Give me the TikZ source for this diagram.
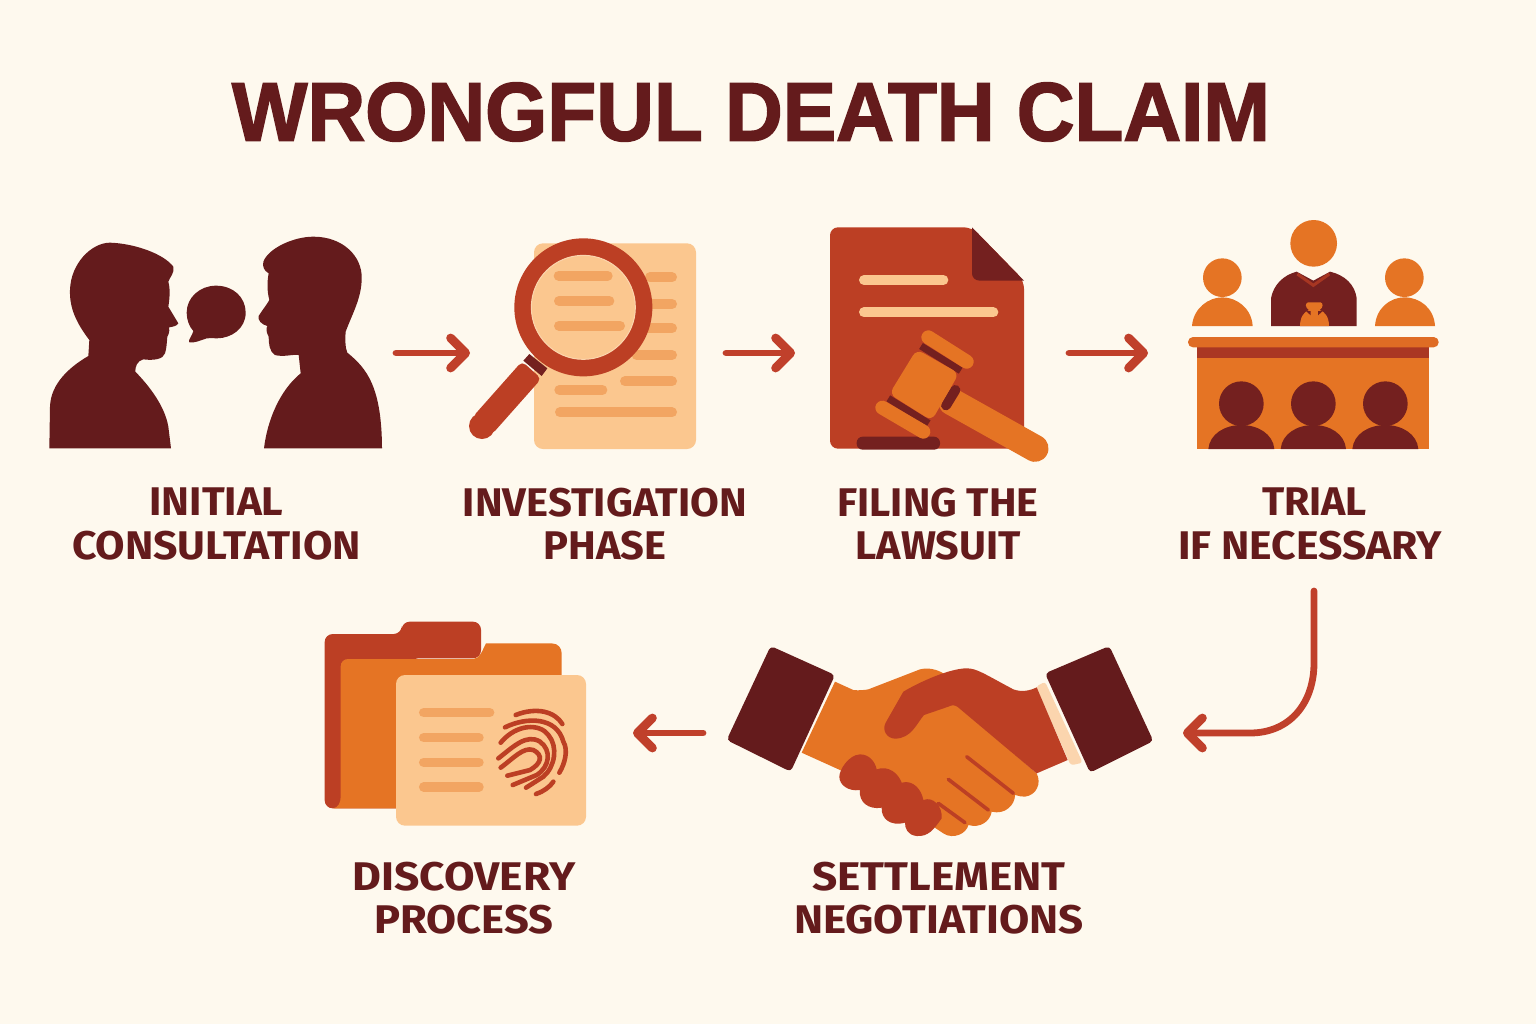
\documentclass[tikz,border=0pt]{standalone}
\usepackage{fontspec}
\usepackage{graphicx}
\usetikzlibrary{arrows.meta}
\setmainfont{Fira Sans}
\newfontfamily\titlefont[BoldFeatures={FakeBold=2}]{Liberation Sans}
\definecolor{bgc}{HTML}{FEF9EE}
\definecolor{maroon}{HTML}{641B1C}
\definecolor{maroonb}{HTML}{74201F}
\definecolor{rust}{HTML}{BC3F24}
\definecolor{orng}{HTML}{E57424}
\definecolor{peach}{HTML}{FBC78F}
\definecolor{barc}{HTML}{F2A562}
\definecolor{pale}{HTML}{FBD5AE}
\definecolor{arrowc}{HTML}{C0402B}
\newcommand\fitw[2]{\resizebox{#1pt}{\height}{#2}}
\tikzset{
 zz/.style={x=0.166667pt,y=-0.166667pt},
 anchorbox/.style={inner sep=0pt,outer sep=0pt,minimum height=2pt,anchor=center},
 flow/.style={draw=arrowc,line width=3.4pt,line cap=round,line join=round,-{Straight Barb[round,length=7.5pt,width=15pt,line width=4.4pt]}},
 steplabel/.style={text=maroon,align=center,inner sep=0pt,font=\fontsize{20}{21.6}\selectfont\bfseries},
 rule/.style={line cap=round,line width=5pt,draw=barc},
}
\begin{document}
\begin{tikzpicture}[x=0.5pt,y=-0.5pt]
\fill[bgc] (0,0) rectangle (1536,1024);
\useasboundingbox (0,0) rectangle (1536,1024);

% title
\node[text=maroon,inner sep=0pt,font=\fontsize{41.5}{46}\selectfont\titlefont\bfseries] (title) at (751,112) {\fitw{519}{WRONGFUL DEATH CLAIM}};

% --- consultation
\begin{scope}[shift={(30,220)},zz]
\fill[maroon] (58,685) -- (60,560) .. controls (62,490) and (120,440) .. (175,408) -- (178,360)
 .. controls (140,310) and (118,265) .. (120,210) .. controls (122,130) and (185,68) .. (240,68)
 .. controls (310,70) and (400,100) .. (430,140) .. controls (434,160) and (420,170) .. (415,185)
 .. controls (422,210) and (418,240) .. (415,260) -- (445,310) .. controls (440,318) and (430,320) .. (417,322)
 .. controls (420,335) and (415,345) .. (412,350) .. controls (410,370) and (410,385) .. (405,400)
 .. controls (400,418) and (370,422) .. (340,418) .. controls (322,422) and (315,440) .. (316,455)
 .. controls (360,500) and (405,560) .. (415,620) -- (423,685) -- cycle;
\fill[maroon] (702,685) .. controls (712,600) and (750,510) .. (812,460) -- (806,405)
 .. controls (790,402) and (760,412) .. (735,405) .. controls (718,395) and (716,370) .. (716,350)
 .. controls (708,335) and (708,325) .. (712,318) .. controls (695,314) and (682,300) .. (686,288)
 .. controls (698,268) and (710,255) .. (718,240) .. controls (710,210) and (712,180) .. (716,160)
 .. controls (702,152) and (697,140) .. (700,125) .. controls (715,85) and (790,50) .. (850,50)
 .. controls (940,50) and (997,110) .. (995,175) .. controls (995,235) and (965,285) .. (947,335)
 .. controls (945,360) and (946,385) .. (952,398) .. controls (1010,445) and (1055,500) .. (1056,685) -- cycle;
\fill[maroon] (558,197) .. controls (610,197) and (647,232) .. (647,278) .. controls (647,325) and (605,355) .. (560,355)
 .. controls (550,355) and (540,353) .. (530,355) .. controls (510,362) and (490,370) .. (478,367)
 .. controls (472,362) and (488,345) .. (490,333) .. controls (478,320) and (470,300) .. (470,278)
 .. controls (470,232) and (510,197) .. (558,197) -- cycle;
\end{scope}
\node[anchorbox,minimum width=173pt] (iconA) at (223,353) {};

% --- investigation
\begin{scope}[shift={(460,220)},zz]
\fill[peach,rounded corners=4.5pt] (222,70) rectangle (708,687);
\begin{scope}[rule]
\draw (570,172) -- (636,172);
\draw (575,252) -- (636,252);
\draw (565,325) -- (636,325);
\draw (530,405) -- (636,405);
\draw (495,484) -- (636,484);
\draw (298,510) -- (427,510);
\draw (300,577) -- (636,577);
\end{scope}
\fill[maroonb] (208,402) -- (262,445) -- (245,468) -- (190,422) -- cycle;
\fill[rust] (66,618) circle[radius=39];
\fill[rust,rounded corners=2.5pt] (186,424) -- (244,476) -- (95,644) -- (37,592) -- cycle;
\fill[rust] (370,262) circle[radius=207];
\filldraw[fill=peach,draw=pale,line width=.5pt] (370,262) circle[radius=156];
\begin{scope}[rule]
\draw (296,167) -- (443,167);
\draw (297,243) -- (448,243);
\draw (297,317) -- (480,317);
\end{scope}
\end{scope}
\node[anchorbox,minimum width=128pt] (iconB) at (598,353) {};

% --- filing
\begin{scope}[shift={(820,220)},zz]
\fill[rust,rounded corners=4pt] (30,22) -- (456,22) -- (612,182) -- (612,686) -- (30,686) -- cycle;
\fill[maroonb] (456,22) -- (612,182) -- (480,182) .. controls (465,182) and (456,172) .. (456,160) -- cycle;
\draw[peach,line width=5pt,line cap=round] (132,180) -- (370,180);
\draw[peach,line width=5pt,line cap=round] (132,277) -- (520,277);
\fill[maroonb,rounded corners=3pt] (110,689) -- (110,650) -- (360,650) -- (360,689) -- cycle;
\draw[orng,line width=13.5pt,line cap=round] (395,545) -- (645,685);
\draw[maroonb,line width=5pt,line cap=round] (378,556) -- (406,510);
\draw[maroonb,line width=3.5pt] (303,378) -- (422,452);
\draw[maroonb,line width=3.5pt] (205,535) -- (326,610);
\fill[orng,rounded corners=3.5pt] (290,388) -- (417,460) -- (335,602) -- (208,522) -- cycle;
\draw[orng,line width=7pt,line cap=round] (325,352) -- (440,425);
\draw[orng,line width=7pt,line cap=round] (187,563) -- (310,635);
\end{scope}
\node[anchorbox,minimum width=137pt] (iconC) at (932,353) {};

% --- trial
\begin{scope}[shift={(1180,210)},zz]
\fill[orng] (401,100) circle[radius=70];
\fill[orng] (127,203) circle[radius=58];
\fill[orng] (673,203) circle[radius=58];
\fill[orng] (36,348) .. controls (40,295) and (85,262) .. (127,262) .. controls (170,262) and (215,295) .. (218,348) -- cycle;
\fill[orng] (585,348) .. controls (588,295) and (630,262) .. (673,262) .. controls (720,262) and (762,295) .. (765,348) -- cycle;
\fill[maroonb] (273,348) -- (273,265) .. controls (280,225) and (310,195) .. (350,185) -- (400,212) -- (450,185)
 .. controls (495,195) and (525,225) .. (530,265) -- (530,348) -- cycle;
\draw[rust!70!maroonb,line width=1.5pt] (352,192) -- (400,226) -- (448,192);
\fill[orng] (360,348) .. controls (360,322) and (372,305) .. (387,300) .. controls (375,292) and (375,280) .. (384,277)
 -- (422,277) .. controls (430,280) and (430,292) .. (419,300) .. controls (435,305) and (447,322) .. (447,348) -- cycle;
\fill[maroonb] (378,303) -- (392,303) -- (392,316) -- cycle;
\fill[maroonb] (414,303) -- (428,303) -- (414,316) -- cycle;
\fill[orng] (52,443) rectangle (747,717);
\fill[rust!75!maroonb] (52,410) rectangle (747,443);
\fill[orng!85!rust,rounded corners=2.5pt] (24,381) rectangle (776,412);
\foreach \cx/\hw in {184/99,400/98,616/99}{
 \fill[maroonb] (\cx,581) circle[radius=67];
 \fill[maroonb] (\cx-\hw,717) .. controls (\cx-\hw+4,672) and (\cx-50,645) .. (\cx,645) .. controls (\cx+50,645) and (\cx+\hw-4,672) .. (\cx+\hw,717) -- cycle;
}
\end{scope}
\node[anchorbox,minimum width=146pt] (iconD) at (1294,353) {};

% --- handshake
\begin{scope}[shift={(720,630)},zz]
\fill[pale,rounded corners=1.5pt] (948,170) -- (975,155) -- (1088,398) -- (1052,406) -- cycle;
\fill[orng] (345,155) -- (400,180) .. controls (415,182) and (435,180) .. (445,178) -- (600,118)
 .. controls (625,112) and (650,118) .. (670,130) -- (720,230) -- (950,430) .. controls (965,460) and (950,495) .. (915,500)
 .. controls (905,500) and (895,498) .. (885,495) .. controls (885,525) and (855,555) .. (815,545)
 .. controls (810,575) and (780,595) .. (745,585) .. controls (740,610) and (700,630) .. (670,610)
 -- (640,590) -- (360,420) -- (245,368) -- cycle;
\fill[rust] (950,172) -- (1043,390) -- (950,430) -- (712,230) .. controls (702,224) and (695,225) .. (685,230) -- (612,255)
 .. controls (590,280) and (575,325) .. (525,326) .. controls (500,325) and (485,300) .. (497,278)
 -- (550,185) .. controls (600,155) and (690,115) .. (740,115) .. controls (770,115) and (790,130) .. (880,178)
 .. controls (905,187) and (930,182) .. (950,172) -- cycle;
\fill[maroon,rounded corners=2pt] (152,48) -- (345,135) -- (212,425) -- (20,330) -- cycle;
\fill[maroon,rounded corners=2pt] (1168,48) -- (975,130) -- (1110,428) -- (1300,333) -- cycle;
\begin{scope}[line width=1.8pt,line cap=round]
\draw[rust] (740,380) -- (880,490);
\draw[rust] (685,448) -- (805,540);
\draw[rust] (655,520) -- (735,578);
\end{scope}
\fill[rust] (420,373) .. controls (448,373) and (465,395) .. (470,418) .. controls (505,405) and (535,430) .. (545,458)
 .. controls (580,448) and (605,480) .. (610,510) .. controls (640,498) and (668,530) .. (665,565)
 .. controls (640,600) and (625,620) .. (590,618) .. controls (562,615) and (555,595) .. (555,578)
 .. controls (510,590) and (483,565) .. (485,533) .. controls (445,540) and (415,515) .. (420,480)
 .. controls (385,485) and (358,465) .. (358,440) .. controls (358,420) and (385,375) .. (420,373) -- cycle;
\end{scope}
\node[anchorbox,minimum width=240pt] (iconE) at (943,733) {};

% --- folder
\begin{scope}[shift={(310,610)},zz]
\fill[rust,rounded corners=4pt] (44,72) -- (275,72) -- (275,35) -- (513,35) -- (513,145) -- (300,145) -- (300,595) -- (44,595) -- cycle;
\fill[orng] (115,147) -- (490,147) .. controls (510,145) and (515,125) .. (528,100) -- (725,100)
 .. controls (745,100) and (755,115) .. (755,130) -- (755,595) -- (70,595) .. controls (85,592) and (92,578) .. (92,560)
 -- (92,170) .. controls (92,155) and (102,147) .. (115,147) -- cycle;
\fill[peach,rounded corners=4.5pt] (258,195) rectangle (828,647);
\begin{scope}[rule,line width=4.7pt]
\draw (341,308) -- (539,308);
\draw (341,383) -- (507,383);
\draw (341,457) -- (507,457);
\draw (341,531) -- (507,531);
\end{scope}
\begin{scope}[line width=2.3pt,line cap=round]
\draw[rust] (617,315) .. controls (680,290) and (735,305) .. (757,342);
\draw[rust] (585,352) .. controls (650,320) and (740,320) .. (760,395) .. controls (775,420) and (765,460) .. (748,488);
\draw[rust] (572,398) .. controls (620,340) and (690,340) .. (715,375) .. controls (745,410) and (735,470) .. (700,500) -- (648,533);
\draw[rust] (565,445) .. controls (610,410) and (650,370) .. (690,395) .. controls (725,420) and (720,470) .. (680,495) -- (608,525);
\draw[rust] (572,473) .. controls (610,445) and (640,410) .. (670,420) .. controls (700,435) and (695,460) .. (660,480) -- (592,497);
\draw[rust] (678,552) .. controls (700,545) and (720,530) .. (730,515);
\end{scope}
\end{scope}
\node[anchorbox,minimum width=154.5pt] (iconF) at (478.5,733) {};

% --- labels
\node[steplabel] (lblA) at (216.5,524) {\fitw{67}{INITIAL}\\\fitw{144.5}{CONSULTATION}};
\node[steplabel] (lblB) at (605,524) {\fitw{142}{INVESTIGATION}\\\fitw{61.5}{PHASE}};
\node[steplabel] (lblC) at (938,524) {\fitw{100.5}{FILING THE}\\\fitw{82.5}{LAWSUIT}};
\node[steplabel] (lblD) at (1310,524) {\hspace*{4.5pt}\fitw{52.5}{TRIAL}\\\fitw{132}{IF NECESSARY}};
\node[steplabel] (lblE) at (939,898.5) {\fitw{126.5}{SETTLEMENT}\\\fitw{145}{NEGOTIATIONS}};
\node[steplabel] (lblF) at (464,898.5) {\fitw{111.5}{DISCOVERY}\\\fitw{89.5}{PROCESS}};

% --- connectors
\coordinate (trialout) at (1314,591);
\draw[flow] (iconA.east) -- (iconB.west);
\draw[flow] (iconB.east) -- (iconC.west);
\draw[flow] (iconC.east) -- (iconD.west);
\draw[flow] (trialout) -- (1314,663) .. controls (1314,703) and (1290,733) .. (1250,733) -- (iconE.east);
\draw[flow] (iconE.west) -- (iconF.east);
\end{tikzpicture}
\end{document}
